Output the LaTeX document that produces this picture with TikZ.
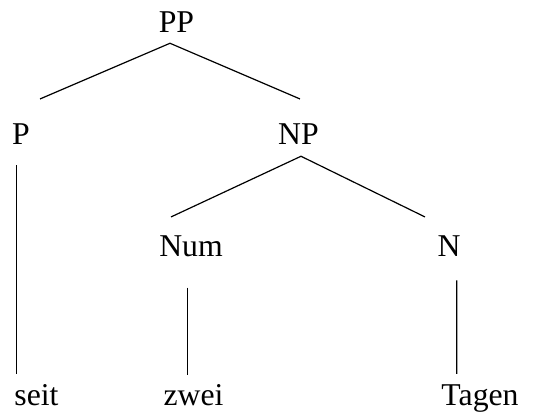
\documentclass[tikz,border=0pt]{standalone}
\usepackage{fontspec}
\setmainfont{Liberation Serif}
\usetikzlibrary{calc}
\tikzset{
	cat/.style={inner sep=0pt,anchor=base},
	branch/.style={line width=0.9pt}
}
\begin{document}
\begin{tikzpicture}[x=0.75pt,y=-0.75pt,font=\fontsize{23.8}{28}\selectfont]
	\useasboundingbox (0,0) rectangle (537,414);
	\node[cat] (pp)    at (176.5,32) {PP};
	\node[cat] (p)     at (21,144)   {P};
	\node[cat] (np)    at (298.5,144){NP};
	\node[cat] (num)   at (191,257)  {Num};
	\node[cat] (n)     at (449,257)  {N};
	\node[cat] (seit)  at (36.5,405) {seit};
	\node[cat] (zwei)  at (193.5,405){zwei};
	\node[cat] (tagen) at (480,405)  {Tagen};
	\draw[branch] ($(p.north)+(19,-24)$) -- ($(pp.south)+(-6.5,11)$) -- ($(np.north)+(1.5,-24)$);
	\draw[branch] ($(num.north)+(-20,-19)$) -- ($(np.south)+(2.5,12)$) -- ($(n.north)+(-24,-19)$);
	\draw[branch] ($(p.south)+(-4.3,21)$)   -- ($(seit.north)+(-19.8,-10)$);
	\draw[branch] ($(num.south)+(-3.3,30)$) -- ($(zwei.north)+(-5.8,-9)$);
	\draw[branch] ($(n.south)+(7.7,23)$)    -- ($(tagen.north)+(-23.3,-10)$);
\end{tikzpicture}
\end{document}
